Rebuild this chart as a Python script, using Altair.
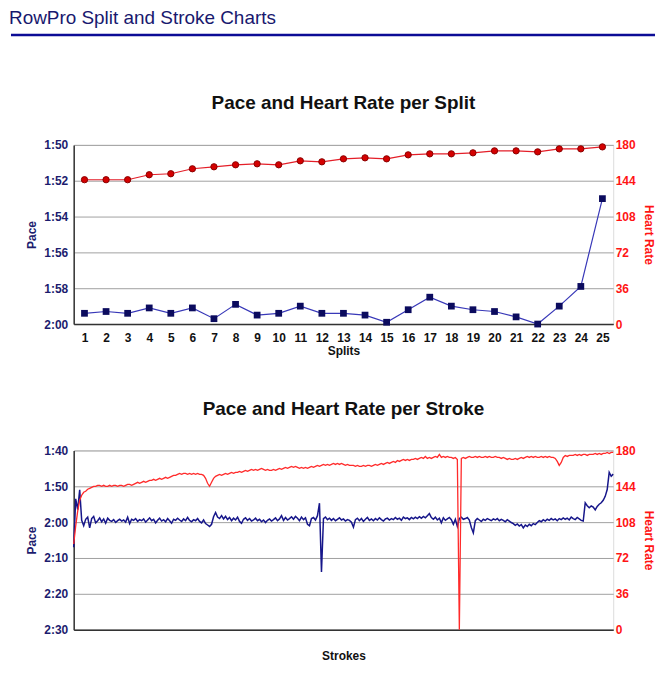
import altair as alt
import pandas as pd

FONT = "Liberation Sans"
NAVY = "#1c1c6e"
RED = "#ff1414"

header_text = ["RowPro Split and Stroke Charts"]
title_split = ["Pace and Heart Rate per Split"]
title_stroke = ["Pace and Heart Rate per Stroke"]

# ---- per split data ----
splits = list(range(1, 26))
split_pace = [119.4, 119.3, 119.4, 119.1, 119.4, 119.1, 119.7, 118.9, 119.5, 119.4,
              119.0, 119.4, 119.4, 119.5, 119.9, 119.2, 118.5, 119.0, 119.2, 119.3,
              119.6, 120.0, 119.0, 117.9, 113.0]
split_hr = [145, 145, 145, 150, 151, 156, 158, 160, 161, 160,
            164, 163, 166, 167, 166, 170, 171, 171, 172, 174,
            174, 173, 176, 176, 178]

# ---- per stroke data (pace in seconds / 500m, heart rate in bpm) ----
stroke_pace = [
    127.0, 113.5, 116.5, 111.0, 119.5, 121.0, 119.2, 118.6, 121.6, 119.0,
    118.4, 120.2, 119.6, 118.8, 119.9, 119.1, 120.3, 118.9, 119.5, 119.8,
    119.3, 120.1, 119.6, 119.2, 119.7, 119.4, 120.0, 118.6, 120.4, 119.2,
    119.5, 119.0, 119.8, 119.3, 119.6, 119.1, 120.0, 119.4, 118.8, 119.6,
    119.2, 120.2, 119.5, 118.9, 119.7, 119.3, 119.9, 119.0, 119.6, 120.3,
    119.2, 119.5, 118.9, 119.4, 119.8, 119.1, 119.6, 118.7, 119.5, 119.9,
    119.3, 119.6, 119.0, 119.8, 120.2, 119.4, 120.4, 120.8, 121.2, 120.6,
    118.5, 117.3, 118.6, 119.0, 118.2, 119.1, 118.4, 119.3, 118.7, 119.6,
    118.9, 119.4, 118.6, 119.8, 120.3, 119.2, 118.8, 119.5, 119.0, 119.7,
    119.4, 118.9, 119.6, 119.2, 119.9, 119.4, 120.1, 119.5, 119.1, 119.7,
    119.3, 118.8, 119.6, 119.1, 118.2, 119.5, 118.7, 119.4, 119.0, 118.5,
    119.2, 118.4, 118.9, 119.6, 118.6, 119.3, 118.8, 120.6, 121.0, 119.0,
    118.7, 119.4, 118.2, 114.7, 133.9, 119.0, 118.6, 119.3, 118.9, 119.5,
    119.0, 119.6, 119.2, 118.8, 119.4, 119.1, 119.7, 119.3, 119.5, 120.0,
    121.4, 119.3, 118.9, 119.6, 119.0, 119.8, 119.2, 118.7, 119.5, 119.1,
    119.6, 119.0, 119.4, 118.8, 119.3, 119.7, 119.1, 118.9, 119.4, 119.0,
    119.3, 118.7, 119.2, 118.9, 119.5, 118.6, 119.0, 118.8, 119.3, 118.7,
    119.1, 118.6, 119.0, 118.5, 118.9, 118.4, 118.8, 118.2, 117.6, 118.7,
    119.2, 118.6, 119.4, 118.9, 120.2, 118.8, 119.5, 119.1, 118.7, 119.3,
    120.6, 119.2, 121.2, 119.0, 118.6, 119.2, 119.0, 118.7, 119.4, 121.5,
    123.0, 119.6, 119.0, 119.4, 119.8, 119.2, 119.5, 119.0, 119.3, 119.6,
    119.1, 119.4, 119.0, 119.6, 119.2, 119.5, 119.9, 119.3, 119.7, 120.1,
    120.4, 120.9, 120.5, 121.1, 120.7, 121.6, 120.8, 121.2, 120.6, 121.0,
    120.4, 120.7, 120.1, 119.6, 119.9, 119.3, 119.7, 119.2, 119.5, 119.0,
    119.4, 119.1, 119.6, 119.0, 119.3, 118.8, 119.2, 118.9, 119.4, 118.6,
    119.0, 119.3, 118.7, 119.1, 119.5, 119.7, 114.6, 115.4, 116.0, 115.5,
    115.8, 116.6, 115.6, 115.0, 114.6, 113.9, 112.8, 110.9, 106.1, 107.2,
    106.6,
]
stroke_hr = [
    86, 104, 119, 130, 135, 138, 139, 141, 142, 143,
    144, 144, 145, 145, 144, 145, 144, 144, 145, 144,
    145, 145, 144, 145, 145, 144, 145, 146, 146, 145,
    146, 147, 148, 147, 148, 149, 148, 149, 150, 150,
    151, 150, 151, 152, 151, 152, 153, 152, 153, 154,
    155, 155, 156, 157, 156, 157, 157, 156, 157, 156,
    157, 156, 157, 156, 156, 155, 152, 147, 144, 148,
    152, 154, 155, 156, 155, 156, 157, 156, 157, 158,
    157, 158, 158, 159, 158, 159, 160, 159, 160, 161,
    160, 161, 160, 161, 162, 161, 160, 161, 160, 160,
    161, 160, 161, 162, 161, 162, 163, 162, 163, 164,
    163, 164, 163, 162, 163, 162, 163, 162, 163, 164,
    163, 164, 165, 164, 165, 166, 165, 166, 165, 166,
    167, 166, 167, 166, 167, 166, 165, 166, 165, 165,
    165, 164, 165, 164, 164, 165, 164, 165, 165, 164,
    165, 166, 165, 166, 167, 166, 167, 168, 167, 168,
    169, 168, 170, 169, 170, 171, 170, 171, 170, 171,
    171, 172, 171, 172, 173, 172, 174, 172, 173, 172,
    173, 174, 173, 176, 173, 174, 173, 174, 173, 173,
    172, 173, 171, 0, 172, 173, 172, 173, 174, 173,
    173, 174, 173, 174, 173, 173, 174, 173, 174, 173,
    173, 174, 173, 173, 172, 173, 172, 171, 172, 171,
    171, 172, 171, 172, 173, 172, 173, 174, 173, 174,
    173, 174, 173, 173, 174, 173, 174, 173, 174, 173,
    173, 172, 169, 165, 168, 173, 175, 174, 175, 175,
    175, 176, 175, 176, 175, 176, 176, 175, 176, 176,
    176, 177, 176, 177, 176, 177, 177, 178, 177, 178,
    178,
]

split_ticks = [110, 112, 114, 116, 118, 120]
stroke_ticks = [100, 110, 120, 130, 140, 150]
hr_ticks = [0, 36, 72, 108, 144, 180]

W, H = 542, 180

MMSS = "floor(datum.value/60) + ':' + (datum.value % 60 < 10 ? '0' : '') + (datum.value % 60)"

split_df = pd.DataFrame({"split": splits, "pace": split_pace, "hr": split_hr})
stroke_df = pd.DataFrame({"stroke": list(range(len(stroke_pace))),
                          "pace": stroke_pace, "hr": stroke_hr[:len(stroke_pace)]})


def pace_axis(ticks):
    return alt.Axis(orient="left", values=ticks, tickCount=len(ticks), labelExpr=MMSS,
                    labelFontSize=12, labelFontWeight="bold", labelColor=NAVY, labelPadding=6,
                    labelOverlap=False, ticks=False,
                    domain=True, domainColor="#333333", domainWidth=1.5,
                    grid=True, gridColor="#a0a0a0", gridWidth=1,
                    title="Pace", titleFontSize=12, titleFontWeight="bold", titleColor=NAVY,
                    titleAngle=-90, titleX=-42, titleY=H / 2, titleAlign="center",
                    titleBaseline="middle")


def hr_axis():
    return alt.Axis(orient="right", values=hr_ticks, tickCount=len(hr_ticks), labelFontSize=12,
                    labelFontWeight="bold", labelColor=RED, labelPadding=2, labelOverlap=False,
                    ticks=False, domain=False, grid=False,
                    title="Heart Rate", titleFontSize=12, titleFontWeight="bold", titleColor=RED,
                    titleAngle=90, titleX=35, titleY=H / 2, titleAlign="center",
                    titleBaseline="middle")


def text_layer(values, x, y, size, weight, color, align, baseline):
    return alt.Chart(pd.DataFrame({"t": values})).mark_text(
        fontSize=size, fontWeight=weight, color=color, align=align, baseline=baseline, font=FONT
    ).encode(text="t:N", x=alt.value(x), y=alt.value(y))


# ---------- chart 1: per split ----------
xs = alt.X("split:O", scale=alt.Scale(type="point", padding=0.5),
           axis=alt.Axis(labelAngle=0, labelFontSize=12, labelFontWeight="bold", labelColor="#111111",
                         labelPadding=9, labelOverlap=False, ticks=False, domain=True,
                         domainColor="#333333", domainWidth=1.5, grid=False, title="Splits",
                         titleFontSize=12, titleFontWeight="bold", titleColor="#111111",
                         titleY=22, titleBaseline="top"))

pace_scale1 = alt.Scale(domain=[110, 120], reverse=True, nice=False, zero=False)
hr_scale = alt.Scale(domain=[0, 180], nice=False)

base1 = alt.Chart(split_df)
pace1 = alt.layer(
    base1.mark_line(color="#3838b8", strokeWidth=1.2).encode(
        x=xs, y=alt.Y("pace:Q", scale=pace_scale1, axis=pace_axis(split_ticks))),
    base1.mark_point(shape="square", filled=True, size=46, color="#0b0b5e", opacity=1).encode(
        x=xs, y=alt.Y("pace:Q", scale=pace_scale1, axis=pace_axis(split_ticks))),
)
hr1 = alt.layer(
    base1.mark_line(color="#e41e28", strokeWidth=1.2).encode(
        x=xs, y=alt.Y("hr:Q", scale=hr_scale, axis=hr_axis())),
    base1.mark_point(shape="circle", filled=True, size=40, color="#d40000", stroke="#8a0000",
                     strokeWidth=1, opacity=1).encode(
        x=xs, y=alt.Y("hr:Q", scale=hr_scale, axis=hr_axis())),
)

header = text_layer(header_text, -65, -136, 19, "normal", "#18186e", "left", "top")
underline = alt.Chart(pd.DataFrame({"a": [0]})).mark_rule(color="#0c0c96", strokeWidth=2.5).encode(
    x=alt.value(-63), x2=alt.value(584), y=alt.value(-110.5))
t1 = text_layer(title_split, W / 2, -36, 19, "bold", "#111111", "center", "alphabetic")

chart1 = alt.layer(pace1, hr1, header, underline, t1).resolve_scale(y="independent").properties(
    width=W, height=H)

# ---------- chart 2: per stroke ----------
xq = alt.X("stroke:Q", scale=alt.Scale(domain=[0, len(stroke_pace) - 1], nice=False, zero=False),
           axis=alt.Axis(labels=False, ticks=False, grid=False, domain=True, domainColor="#333333",
                         domainWidth=1.5, title="Strokes", titleFontSize=12, titleFontWeight="bold",
                         titleColor="#111111", titleY=21, titleBaseline="top"))
pace_scale2 = alt.Scale(domain=[100, 150], reverse=True, nice=False, zero=False)

base2 = alt.Chart(stroke_df)
pace2 = base2.mark_line(color="#16168a", strokeWidth=1.5).encode(
    x=xq, y=alt.Y("pace:Q", scale=pace_scale2, axis=pace_axis(stroke_ticks)))
hr2 = base2.mark_line(color="#ff2a2a", strokeWidth=1.3).encode(
    x=xq, y=alt.Y("hr:Q", scale=hr_scale, axis=hr_axis()))
t2 = text_layer(title_stroke, W / 2, -36, 19, "bold", "#111111", "center", "alphabetic")

chart2 = alt.layer(pace2, hr2, t2).resolve_scale(y="independent").properties(width=W, height=H)

chart = alt.vconcat(chart1, chart2, spacing=127, bounds="flush").properties(
    padding={"left": 0, "top": -1, "right": 0, "bottom": 0}
).configure_view(stroke=None).configure(font=FONT)

chart.save("out.html", embed_options={"renderer": "svg", "actions": False})
